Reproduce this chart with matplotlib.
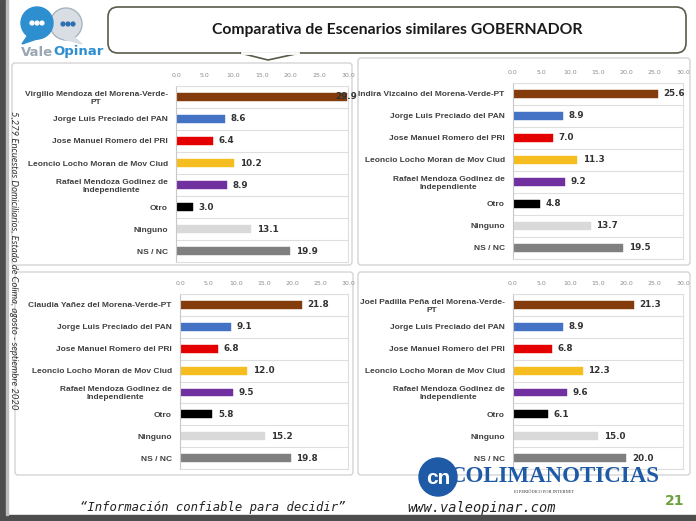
import matplotlib.pyplot as plt
from matplotlib.patches import FancyBboxPatch, Rectangle, Circle, Polygon

# data
labels_tl = ['Virgilio Mendoza del Morena-Verde-\nPT']
labels_tr = ['Indira Vizcaino del Morena-Verde-PT']
labels_bl = ['Claudia Yañez del Morena-Verde-PT']
labels_br = ['Joel Padilla Peña del Morena-Verde-\nPT']
common = ['Jorge Luis Preciado del PAN', 'Jose Manuel Romero del PRI',
          'Leoncio Locho Moran de Mov Ciud', 'Rafael Mendoza Godinez de\nIndependiente',
          'Otro', 'Ninguno', 'NS / NC']
vals_tl = [29.9, 8.6, 6.4, 10.2, 8.9, 3.0, 13.1, 19.9]
vals_tr = [25.6, 8.9, 7.0, 11.3, 9.2, 4.8, 13.7, 19.5]
vals_bl = [21.8, 9.1, 6.8, 12.0, 9.5, 5.8, 15.2, 19.8]
vals_br = [21.3, 8.9, 6.8, 12.3, 9.6, 6.1, 15.0, 20.0]
xticks = [0, 5, 10, 15, 20, 25, 30]
colors = ['#843C0C', '#4472C4', '#E50000', '#F5BD1F', '#7030A0', '#000000', '#D9D9D9', '#808080']

W, H = 696, 521
fig = plt.figure(figsize=(W / 100, H / 100), dpi=100)
bg = fig.add_axes([0, 0, 1, 1])
bg.set_xlim(0, W)
bg.set_ylim(H, 0)
bg.axis('off')

# page frame
bg.add_patch(Rectangle((0, 0), 6, H, color='#4D4D4D'))
bg.add_patch(Rectangle((0, 515), W, 6, color='#4D4D4D'))
bg.add_patch(Rectangle((6, 0), 2, 515, color='#BDBDBD'))

# title callout
bg.add_patch(FancyBboxPatch((108, 7), 578, 46, boxstyle='round,pad=0,rounding_size=10',
                            fc='white', ec='#5A5A4A', lw=1.2))
bg.add_patch(Polygon([[240, 53], [268, 60], [300, 53]], closed=False, fc='white', ec='#5A5A4A', lw=1.2))
bg.plot([242, 298], [53, 53], color='white', lw=2)
bg.text(397, 30, 'Comparativa de Escenarios similares GOBERNADOR', ha='center', va='center',
        fontsize=11.3, fontweight='bold', family='Lato', color='#1A1A1A')

# logo
bg.add_patch(Circle((66, 24), 16, color='#D8DEE4', ec='#A9B4BE'))
bg.add_patch(Circle((37, 23), 16, color='#2E8FD0'))
bg.add_patch(Polygon([[28, 35], [22, 44], [40, 38]], color='#2E8FD0'))
bg.add_patch(Polygon([[73, 36], [82, 44], [64, 39]], color='#D8DEE4'))
for cx, cy, c in [(37, 23, 'white'), (68, 24, '#2E6FB0')]:
    for dx in (-5, 0, 5):
        bg.add_patch(Circle((cx + dx, cy), 1.9, color=c))
bg.text(53, 52, 'Vale', ha='right', va='center', fontsize=9.5, fontweight='bold', color='#9AA6B2')
bg.text(53, 52, 'Opinar', ha='left', va='center', fontsize=9.5, fontweight='bold', color='#2E8FD0')

# panels
for x, y, w, h in [(12, 63, 340, 202), (358, 58, 332, 207), (15, 272, 338, 203), (358, 272, 332, 203)]:
    bg.add_patch(FancyBboxPatch((x, y), w, h, boxstyle='round,pad=0,rounding_size=3',
                                fc='white', ec='#D4D4D4', lw=1))

bg.text(13, 260, '5,279 Encuestas Domiciliarios, Estado de Colima, agosto - septiembre 2020',
        rotation=-90, ha='center', va='center', fontsize=6.8, style='italic', family='Lato',
        color='#333333')


def panel(rect, vals, first):
    ax = fig.add_axes(rect)
    ax.patch.set_alpha(0)
    cats = first + common
    y = list(range(len(cats)))
    ax.barh(y, vals, height=0.36, color=colors, edgecolor=colors, lw=0.3)
    for i, v in zip(y, vals):
        # the full-scale bar gets its label pulled back onto the bar end
        off = 4 if v < 29 else -8.5
        ax.annotate(f'{v:.1f}', (v, i), xytext=(off, 0), textcoords='offset points',
                    ha='left', va='center', fontsize=6.3, fontweight='bold', color='#333333',
                    annotation_clip=False)
    ax.set_xlim(0, 30)
    ax.set_ylim(len(cats) - 0.5, -0.5)
    ax.set_yticks(y)
    ax.set_yticklabels(cats, fontsize=6.0, fontweight='bold', color='#404040',
                       family='Liberation Sans')
    for t in ax.get_yticklabels():
        t.set_multialignment('center')
    ax.set_xticks(xticks)
    ax.set_xticklabels([f'{v:.1f}' for v in xticks], fontsize=4.5, color='#8C8C8C')
    ax.xaxis.tick_top()
    ax.tick_params(length=0)
    ax.tick_params(axis='x', pad=6)
    ax.tick_params(axis='y', pad=6)
    ax.set_yticks([i + 0.5 for i in range(-1, len(cats))], minor=True)
    ax.tick_params(which='minor', length=0)
    ax.grid(axis='y', which='minor', color='#DEDEDE', lw=0.8)
    for s in ax.spines.values():
        s.set_color('#DEDEDE')
        s.set_linewidth(0.8)
    ax.spines['left'].set_color('#C8C8C8')
    return ax


panel([176 / W, 1 - 262 / H, 172 / W, 176 / H], vals_tl, labels_tl)
panel([513 / W, 1 - 259 / H, 170 / W, 176 / H], vals_tr, labels_tr)
panel([180 / W, 1 - 469 / H, 168 / W, 175 / H], vals_bl, labels_bl)
panel([513 / W, 1 - 469 / H, 170 / W, 175 / H], vals_br, labels_br)

# watermark + footer on top
top = fig.add_axes([0, 0, 1, 1], zorder=5)
top.set_xlim(0, W)
top.set_ylim(H, 0)
top.axis('off')
top.add_patch(Circle((438, 477), 19, color='#1F5AA6'))
top.text(438, 478, 'cn', ha='center', va='center', fontsize=15, fontweight='bold',
         color='white', family='Liberation Sans')
top.text(555, 476, 'COLIMANOTICIAS', ha='center', va='center', fontsize=16.5, fontweight='bold',
         family='Liberation Serif', color='#1F5AA6')
top.text(544, 492, 'El PERIÓDICO POR INTERNET', ha='center', va='center', fontsize=3.2,
         family='Liberation Serif', color='#333333')
top.text(213, 508, '“Información confiable para decidir”', ha='center', va='center',
         fontsize=8.8, family='DejaVu Sans Mono', style='oblique', color='#222222')
top.text(482, 508, 'www.valeopinar.com', ha='center', va='center',
         fontsize=9.8, family='DejaVu Sans Mono', style='oblique', color='#222222')
top.text(675, 501, '21', ha='center', va='center', fontsize=10, fontweight='bold', color='#6FA040')

fig.savefig('out.png', dpi=100)
